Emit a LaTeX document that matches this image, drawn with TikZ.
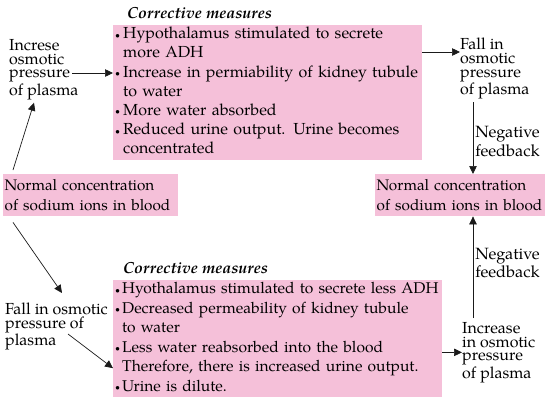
\documentclass[tikz,border=0pt]{standalone}
\usepackage{fontspec}
\setmainfont{TeX Gyre Pagella}
\usepackage{xcolor}
\usetikzlibrary{arrows.meta, positioning}
\definecolor{measpink}{HTML}{F5C0D9}
\definecolor{arrowgray}{HTML}{1A1A1A}

\newcommand{\pitem}{\makebox[8pt][l]{\raisebox{0.5pt}{\small\textbullet}}&}
\newcommand{\qitem}{\makebox[7pt][l]{\raisebox{0.5pt}{\small\textbullet}}&}

\begin{document}
\begin{tikzpicture}[x=1pt, y=-1pt,
    node distance=6pt and 13pt,
    measbox/.style={fill=measpink, inner xsep=2pt, inner ysep=0pt, text width=#1, anchor=north west},
    normbox/.style={fill=measpink, inner xsep=1.5pt, inner ysep=2pt, text width=#1, align=left, anchor=north west, font=\fontsize{15.3}{19.5}\selectfont},
    sidetext/.style={inner sep=0pt, align=left, anchor=north west, font=\fontsize{16}{13.8}\selectfont},
    fbtext/.style={inner sep=0pt, align=left, font=\fontsize{16.3}{18.5}\selectfont},
    meashead/.style={inner sep=0pt, font=\fontsize{16}{18}\selectfont\bfseries\itshape},
    fbline/.style={-{Triangle[length=8pt,width=7.5pt]}, draw=arrowgray, line width=0.7pt}
  ]
    \useasboundingbox (0,0) rectangle (550,400);

    % corrective measures, top and bottom
    \node[measbox=305pt, minimum height=133pt, font=\fontsize{16}{19.2}\selectfont] (measup) at (113,25) {%
      \noindent\begin{tabular}{@{}l@{}l@{}}
      \pitem Hypothalamus stimulated to secrete\\
        & more ADH\\
      \pitem Increase in permiability of kidney tubule\\
        & to water\\
      \pitem More water absorbed\\
      \pitem Reduced urine output. Urine becomes\\
        & concentrated
      \end{tabular}};
    \node[meashead, above right=6pt and 14pt of measup.north west, anchor=south west] (headup) {Corrective measures};

    \node[measbox=325pt, minimum height=117pt, font=\fontsize{15.6}{19.5}\selectfont] (measdown) at (113,280) {%
      \noindent\begin{tabular}{@{}l@{}l@{}}
      \qitem Hyothalamus stimulated to secrete less ADH\\
      \qitem Decreased permeability of kidney tubule\\
        & to water\\
      \qitem Less water reabsorbed into the blood\\
        & Therefore, there is increased urine output.\\
      \qitem Urine is dilute.
      \end{tabular}};
    \node[meashead, above right=6pt and 10pt of measdown.north west, anchor=south west] (headdown) {Corrective measures};

    % normal levels
    \node[normbox=172pt, minimum height=42pt] (normleft) at (3,174) {Normal concentration\\of sodium ions in blood};
    \node[normbox=167pt, minimum height=42pt] (normright) at (375,174) {Normal concentration\\of sodium ions in blood};

    % osmotic pressure changes
    \node[sidetext] (incrup) at (9,39) {Increse\\osmotic\\pressure\\of plasma};
    \node[sidetext] (fallup) at (460,38) {Fall in\\osmotic\\pressure\\of plasma};
    \node[sidetext] (falldown) at (5,303) {Fall in osmotic\\pressure of\\plasma};
    \node[sidetext] (incrdown) at (462,322) {Increase\\in osmotic\\pressure\\of plasma};

    \coordinate (fbx) at (473,0);
    \coordinate (incrout) at ([xshift=63pt,yshift=-34pt]incrup.north west);

    \draw[fbline] ([xshift=10pt,yshift=4pt]normleft.north west) -- ([xshift=25pt,yshift=-3pt]incrup.south west);
    \draw[fbline] (incrout) -- (incrout -| measup.west);
    \draw[fbline] (measup.east |- fallup.north) ++(0,14) coordinate (upout) (upout) -- (upout -| fallup.west);
    \draw[fbline] (fbx |- fallup.south) ++(0,3) coordinate (fbtop) (fbtop) -- (fbx |- normright.north)
      node[fbtext, pos=0.55, right=2pt] (negup) {Negative\\feedback};

    \draw[fbline] ([xshift=10pt,yshift=-6pt]normleft.south west) -- ([xshift=57pt,yshift=10pt]falldown.north west);
    \draw[fbline] ([xshift=63pt,yshift=-31pt]falldown.north west) -- ([yshift=-29.5pt]measdown.west);
    \draw[fbline] (measdown.east |- incrdown.west) -- (incrdown.west);
    \draw[fbline] (fbx |- incrdown.north) ++(0,-4) coordinate (fbbot) (fbbot) -- (fbx |- normright.south)
      node[fbtext, pos=0.54, right=2pt] (negdown) {Negative\\feedback};
\end{tikzpicture}
\end{document}
